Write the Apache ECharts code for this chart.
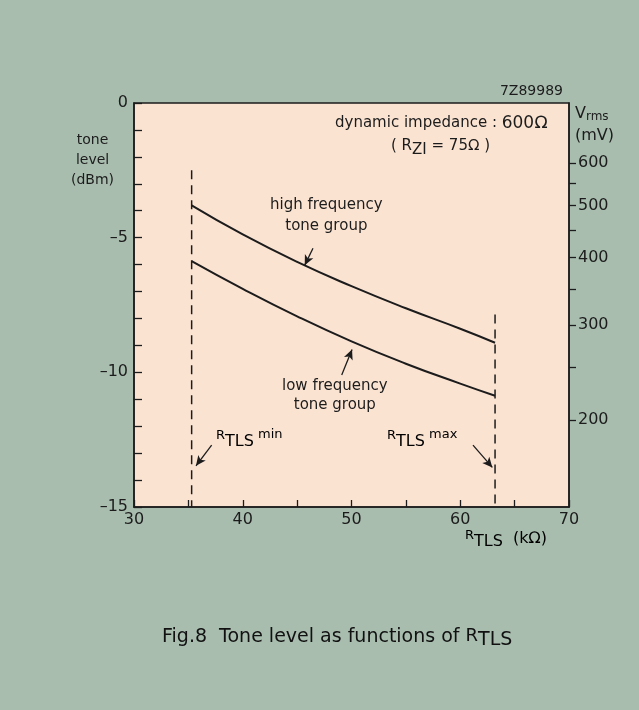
<!DOCTYPE html>
<html>
<head>
<meta charset="utf-8">
<script src="https://cdn.jsdelivr.net/npm/echarts@6/dist/echarts.min.js"></script>
<style>
  html, body { margin: 0; padding: 0; background: #a9bdaf; }
  #main { width: 639px; height: 710px; }
</style>
</head>
<body>
<div id="main"></div>
<script>
// R_TLS (kOhm) readings and tone level (dBm) for both tone groups
const rtls = [35.3, 40, 45, 50, 55, 60, 63.2];
const highGroup = [-3.8, -4.88, -5.9, -6.8, -7.62, -8.38, -8.9];
const lowGroup = [-5.87, -6.9, -7.92, -8.85, -9.68, -10.42, -10.87];

// limits of the R_TLS range (dashed markers) and where they start at the top
const rtlsLimits = [35.3, 63.2];
const limitTops = [-2.5, -7.85];

// tick positions of the two main axes
const xLabels = [30, 40, 50, 60, 70];
const xTicks = [30, 35, 40, 45, 50, 55, 60, 65, 70];
const yLabels = [-15, -10, -5, 0];
const yTicks = [-15, -14, -13, -12, -11, -10, -9, -8, -7, -6, -5, -4, -3, -2, -1, 0];

// right hand scale: Vrms in mV across 600 ohm, 0 dBm = 774.6 mV
const vrmsLabels = [600, 500, 400, 300, 200];
const vrmsTicks = [600, 550, 500, 450, 400, 350, 300, 250, 200];
const V0 = 774.6;
const toDbm = mv => 20 * Math.log10(mv / V0);

const ink = '#1c1c1c';
const font = 'DejaVu Sans';

const chart = echarts.init(document.getElementById('main'));

function pairs(xs, ys) {
    return xs.map((x, i) => [x, ys[i]]);
}

const dash = v => (v < 0 ? '\u2013' + (-v) : String(v));

const rtlsRich = {
    r: { fontFamily: font, fontSize: 13, color: ink, padding: [0, 0, 6, 0] },
    s: { fontFamily: font, fontSize: 16, color: ink, padding: [6, 0, 0, 0] },
    p: { fontFamily: font, fontSize: 13, color: ink, padding: [0, 0, 8, 0] },
    n: { fontFamily: font, fontSize: 16, color: ink }
};

function arrow(from, to) {
    return [{ coord: from }, { coord: to }];
}

const tickStyle = { color: ink, width: 1.3 };

const option = {
    backgroundColor: '#a9bdaf',
    animation: false,
    textStyle: { fontFamily: font, color: ink },
    grid: {
        left: 134, right: 70, top: 103, bottom: 203,
        show: true,
        backgroundColor: '#fbe3d2',
        borderColor: ink,
        borderWidth: 1.5
    },
    xAxis: {
        type: 'value',
        min: 30, max: 70,
        axisLine: { onZero: false, lineStyle: { color: ink, width: 1.5 } },
        axisTick: { inside: true, length: 7, lineStyle: tickStyle, customValues: xTicks },
        splitLine: { show: false },
        axisLabel: { fontFamily: font, fontSize: 16, color: ink, margin: 5, customValues: xLabels }
    },
    yAxis: [{
        type: 'value',
        min: -15, max: 0,
        axisLine: { show: true, onZero: false, lineStyle: { color: ink, width: 1.5 } },
        axisTick: { inside: true, length: 8, lineStyle: tickStyle, customValues: yTicks },
        splitLine: { show: false },
        axisLabel: { fontFamily: font, fontSize: 16, color: ink, margin: 6, customValues: yLabels, formatter: dash }
    }, {
        type: 'value',
        position: 'right',
        min: -15, max: 0,
        axisLine: { show: true, onZero: false, lineStyle: { color: ink, width: 1.5 } },
        axisTick: {
            show: true, inside: false, length: 7,
            lineStyle: tickStyle,
            customValues: vrmsTicks.map(toDbm)
        },
        splitLine: { show: false },
        axisLabel: {
            fontFamily: font, fontSize: 16, color: ink, margin: 9,
            customValues: vrmsLabels.map(toDbm),
            formatter: v => String(Math.round(V0 * Math.pow(10, v / 20) / 10) * 10)
        }
    }],
    series: [{
        name: 'high frequency tone group',
        type: 'line',
        data: pairs(rtls, highGroup),
        smooth: true,
        showSymbol: false,
        lineStyle: { color: ink, width: 2 },
        markLine: {
            silent: true,
            symbol: ['none', 'arrow'],
            symbolSize: [7, 10],
            label: { show: false },
            lineStyle: { color: ink, width: 1.3, type: 'solid' },
            data: [
                arrow([46.46, -5.39], [45.7, -6.02]),
                arrow([49.1, -10.1], [50.05, -9.15]),
                arrow([37.14, -12.7], [35.7, -13.47]),
                arrow([61.17, -12.7], [62.95, -13.53])
            ]
        }
    }, {
        name: 'low frequency tone group',
        type: 'line',
        data: pairs(rtls, lowGroup),
        smooth: true,
        showSymbol: false,
        lineStyle: { color: ink, width: 2 }
    }, {
        name: 'RTLS min',
        type: 'line',
        data: [[rtlsLimits[0], limitTops[0]], [rtlsLimits[0], -15]],
        showSymbol: false,
        lineStyle: { color: ink, width: 1.5, type: [9, 6] }
    }, {
        name: 'RTLS max',
        type: 'line',
        data: [[rtlsLimits[1], limitTops[1]], [rtlsLimits[1], -15]],
        showSymbol: false,
        lineStyle: { color: ink, width: 1.5, type: [9, 6] }
    }],
    graphic: [
        { type: 'text', right: 76, top: 84, style: { text: '7Z89989', font: '14px "DejaVu Sans"', fill: ink } },
        { type: 'text', left: 71, top: 130, style: { text: 'tone\nlevel\n(dBm)', font: '14px "DejaVu Sans"', fill: ink, textAlign: 'center', lineHeight: 20 } },
        { type: 'text', left: 575, top: 103, style: { text: 'V{s|rms}\n(mV)', font: '16px "DejaVu Sans"', fill: ink, lineHeight: 22,
            rich: { s: { fontFamily: font, fontSize: 12, color: ink, padding: [6, 0, 0, 0] } } } },
        { type: 'text', left: 335, top: 115, style: { text: 'dynamic impedance : {b|600\u2126}', font: '15px "DejaVu Sans"', fill: ink,
            rich: { b: { fontFamily: font, fontSize: 17, color: ink } } } },
        { type: 'text', left: 391, top: 139, style: { text: '( R{s|ZI} = 75\u2126 )', font: '15px "DejaVu Sans"', fill: ink,
            rich: { s: { fontFamily: font, fontSize: 15, color: ink, padding: [7, 0, 0, 0] } } } },
        { type: 'text', left: 270, top: 195, style: { text: 'high frequency\ntone group', font: '15px "DejaVu Sans"', fill: ink, textAlign: 'center', lineHeight: 21 } },
        { type: 'text', left: 282, top: 377, style: { text: 'low frequency\ntone group', font: '15px "DejaVu Sans"', fill: ink, textAlign: 'center', lineHeight: 19 } },
        { type: 'text', left: 216, top: 428, style: { text: '{r|R}{s|TLS}{p| min}', rich: rtlsRich } },
        { type: 'text', left: 387, top: 428, style: { text: '{r|R}{s|TLS}{p| max}', rich: rtlsRich } },
        { type: 'text', left: 465, top: 529, style: { text: '{r|R}{s|TLS}{n|  (k\u2126)}', rich: rtlsRich } },
        { type: 'text', left: 162, top: 627, style: { text: 'Fig.8  Tone level as functions of {r|R}{s|TLS}', font: '19px "DejaVu Sans"', fill: '#111',
            rich: {
                r: { fontFamily: font, fontSize: 18, color: '#111', padding: [0, 0, 3, 0] },
                s: { fontFamily: font, fontSize: 19, color: '#111', padding: [6, 0, 0, 0] }
            } } }
    ]
};

chart.setOption(option);
</script>
</body>
</html>
